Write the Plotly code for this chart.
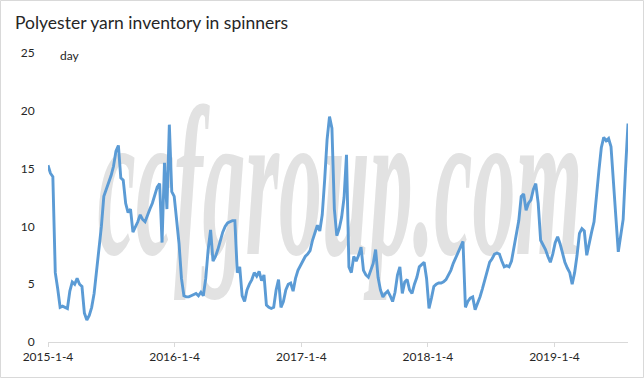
import pandas as pd
import plotly.graph_objects as go

# ---- data (weekly, days of inventory) ----
start_date = "2015-01-04"
inventory_days = [
    15.3, 14.6, 14.3, 6.0, 4.6, 3.0, 3.1, 3.0, 2.9, 4.4,
    5.2, 5.0, 5.5, 5.0, 4.8, 2.5, 1.9, 2.3, 3.0, 4.2,
    6.2, 7.8, 10.0, 12.6, 13.2, 13.8, 14.4, 15.2, 16.5, 17.0,
    14.2, 14.0, 12.0, 11.2, 11.5, 9.5, 9.9, 10.4, 11.0, 10.6,
    10.4, 11.0, 11.5, 12.0, 12.7, 13.4, 13.7, 8.6, 15.5, 11.5,
    18.8, 13.0, 12.6, 10.8, 8.5, 5.5, 4.0, 3.9, 3.9, 4.0,
    4.1, 4.2, 4.0, 4.3, 4.0, 5.5, 8.0, 9.7, 7.0, 7.4,
    8.0, 8.8, 9.5, 10.0, 10.3, 10.4, 10.5, 10.5, 6.0, 6.5,
    4.0, 3.5, 4.5, 5.0, 5.4, 6.0, 5.7, 6.1, 5.3, 5.8,
    3.2, 3.0, 2.9, 3.0, 4.5, 5.4, 3.0, 3.5, 4.5, 5.0,
    5.1, 4.4, 5.5, 6.2, 6.6, 7.0, 7.4, 7.6, 7.9, 8.8,
    9.5, 10.1, 9.6, 11.0, 14.0, 17.5, 19.5, 18.5, 11.5, 9.2,
    9.8, 10.8, 12.5, 16.2, 6.5, 6.0, 7.4, 7.0, 7.5, 8.2,
    6.2, 5.8, 5.6, 6.2, 6.8, 8.0, 5.6, 4.5, 3.9, 4.2,
    4.4, 4.0, 3.5, 4.3, 5.8, 6.5, 4.2, 5.2, 5.4, 4.5,
    4.2, 5.0, 5.6, 6.5, 6.7, 6.9, 5.5, 2.9, 3.8, 4.8,
    5.0, 5.1, 5.1, 5.2, 5.4, 5.8, 6.2, 6.8, 7.3, 7.7,
    8.2, 8.7, 3.0, 3.5, 3.8, 3.9, 2.8, 3.3, 3.9, 4.6,
    5.4, 6.2, 6.9, 7.2, 7.6, 7.7, 7.6, 7.0, 6.5, 6.6,
    6.5, 7.0, 8.2, 9.6, 10.5, 12.6, 12.8, 11.4, 12.0, 12.3,
    13.2, 13.7, 12.0, 8.8, 8.4, 8.0, 7.4, 6.9, 7.6, 8.6,
    9.1, 8.5, 7.7, 6.9, 6.4, 6.0, 5.0, 6.0, 7.5, 9.4,
    9.8, 9.6, 7.5, 8.6, 9.5, 10.4, 12.3, 14.8, 16.8, 17.7,
    17.4, 17.6, 16.9, 13.4, 10.8, 7.8, 9.4, 10.6, 15.0, 18.9,
]
dates = pd.date_range(start_date, periods=len(inventory_days), freq="7D")

x_tick_values = ["2015-01-04", "2016-01-04", "2017-01-04", "2018-01-04", "2019-01-04"]
x_tick_labels = ["2015-1-4", "2016-1-4", "2017-1-4", "2018-1-4", "2019-1-4"]
y_tick_values = [0, 5, 10, 15, 20, 25]

title_text = "Polyester yarn inventory in spinners"
unit_text = "day"
watermark_text = "ccfgroup.com"

# ---- layout constants ----
W, H = 644, 378
ML, MR, MT, MB = 48, 16, 53, 36
PW, PH = W - ML - MR, H - MT - MB

LINE_COLOR = "#5B9BD5"
FONT = "Lato, Calibri, Carlito, sans-serif"

fig = go.Figure()
fig.add_trace(go.Scatter(
    x=dates, y=inventory_days, mode="lines",
    line=dict(color=LINE_COLOR, width=2.9),
    hoverinfo="skip", showlegend=False,
))

# paper coords of the whole figure (for border)
px0 = -ML / PW
px1 = 1 + MR / PW
py0 = -MB / PH
py1 = 1 + MT / PH

# watermark box in figure pixels -> paper coords
wm_x0, wm_x1 = 95, 585
wm_yc = 172
shapes = [
    # chart border
    dict(type="rect", xref="paper", yref="paper",
         x0=px0 + 0.5 / PW, x1=px1 - 0.5 / PW, y0=py0 + 0.5 / PH, y1=py1 - 0.5 / PH,
         line=dict(color="#D9D9D9", width=1), fillcolor="rgba(0,0,0,0)", layer="below"),
    # watermark (behind the line)
    dict(type="rect", xref="paper", yref="paper",
         x0=(wm_x0 - ML) / PW, x1=(wm_x1 - ML) / PW,
         y0=1 - (wm_yc + 20 - MT) / PH, y1=1 - (wm_yc - 20 - MT) / PH,
         line=dict(width=0), fillcolor="rgba(0,0,0,0)", layer="below",
         label=dict(text=watermark_text, textposition="middle center",
                    font=dict(family="Liberation Serif, Times New Roman, serif",
                              size=86, color="#E2E2E2", style="italic", weight="bold"))),
]

annotations = [
    dict(text=title_text, xref="paper", yref="paper",
         x=px0 + 13 / PW, y=py1 - 22 / PH, xanchor="left", yanchor="middle",
         showarrow=False, font=dict(family=FONT, size=17.5, color="#262626")),
    dict(text=unit_text, xref="paper", yref="paper",
         x=(58 - ML) / PW, y=1 - 2 / PH, xanchor="left", yanchor="middle",
         showarrow=False, font=dict(family=FONT, size=12, color="#262626")),
]

fig.update_layout(
    width=W, height=H,
    margin=dict(l=ML, r=MR, t=MT, b=MB, pad=0),
    paper_bgcolor="white", plot_bgcolor="white",
    font=dict(family=FONT, size=12, color="#262626"),
    shapes=shapes, annotations=annotations,
    xaxis=dict(
        type="date",
        range=[dates[0], dates[-1]],
        tickvals=x_tick_values, ticktext=x_tick_labels,
        showgrid=False, zeroline=False,
        showline=True, linecolor="#D9D9D9", linewidth=1,
        ticks="outside", ticklen=4, tickcolor="#D9D9D9",
        tickfont=dict(family=FONT, size=12, color="#262626"),
    ),
    yaxis=dict(
        range=[0, 25], tickvals=y_tick_values,
        showgrid=False, zeroline=False, showline=False,
        ticks="outside", ticklen=10, tickcolor="rgba(0,0,0,0)",
        tickfont=dict(family=FONT, size=12, color="#262626"),
    ),
)

post_js = """
document.body.style.margin = '0';
document.body.style.padding = '0';
var gd = document.getElementById('{plot_id}');
function stretchWatermark() {
  gd.querySelectorAll('text').forEach(function (t) {
    if (t.textContent === 'ccfgroup.com') {
      t.style.transformBox = 'fill-box';
      t.style.transformOrigin = 'center';
      t.style.transform = 'scaleY(2.5)';
    }
  });
}
stretchWatermark();
setTimeout(stretchWatermark, 0);
if (gd.on) { gd.on('plotly_afterplot', stretchWatermark); }
"""

fig.write_html("out.html", post_script=post_js, config={"displayModeBar": False})
